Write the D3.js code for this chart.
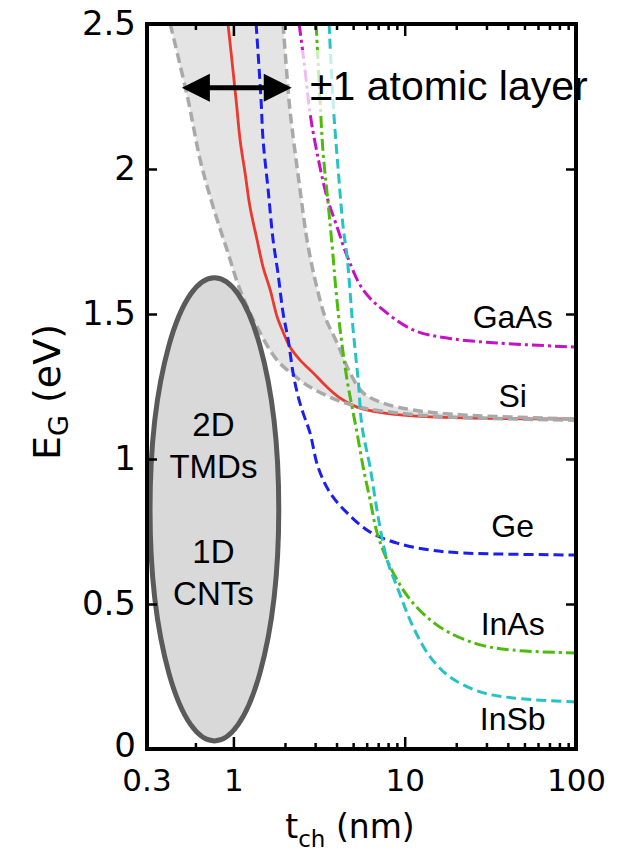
<!DOCTYPE html>
<html><head><meta charset="utf-8">
<script src="https://cdn.jsdelivr.net/npm/d3@7"></script>
<style>body{margin:0;background:#fff}svg{display:block}</style>
</head><body>
<svg id="chart" width="617" height="851"></svg>
<script>
// ---------- data ----------
const xDomain = [0.313, 100];
const yDomain = [0, 2.5];
const xTickValues = [0.3, 1, 10, 100];
const xTickLabels = ["0.3", "1", "10", "100"];
const xMajorTicks = [1, 10];
const xMinorTicks = [0.6, 2, 3, 4, 5, 6, 7, 8, 9, 20, 30, 40, 50, 60, 70, 80, 90];
const yTickValues = [0, 0.5, 1, 1.5, 2, 2.5];
const yTickLabels = ["0", "0.5", "1", "1.5", "2", "2.5"];

const siT   = [0.93, 1.037, 1.094, 1.17, 1.25, 1.375, 1.49, 1.64, 1.80, 1.95, 2.14, 2.45, 2.92, 3.52, 4.20, 5.27, 7.48, 14.1, 100];
const siE   = [2.5, 2.238, 2.1, 1.986, 1.869, 1.755, 1.662, 1.583, 1.490, 1.438, 1.386, 1.341, 1.297, 1.248, 1.21, 1.179, 1.159, 1.145, 1.138];
const geT   = [1.357, 1.45, 1.49, 1.595, 1.705, 1.82, 1.95, 2.09, 2.23, 2.39, 2.55, 2.80, 3.12, 3.67, 4.61, 6.28, 9.03, 14.1, 21.9, 100];
const geE   = [2.5, 2.238, 2.1, 1.928, 1.755, 1.641, 1.503, 1.410, 1.297, 1.214, 1.159, 1.090, 0.972, 0.883, 0.814, 0.748, 0.710, 0.686, 0.676, 0.669];
const gaasT = [2.42, 2.62, 2.80, 3.08, 3.52, 4.03, 4.61, 5.72, 7.48, 11.2, 17.7, 34.6, 100];
const gaasE = [2.5, 2.341, 2.193, 2.055, 1.903, 1.80, 1.70, 1.583, 1.514, 1.445, 1.417, 1.40, 1.386];
const inasT = [3.04, 3.21, 3.34, 3.57, 3.82, 3.92, 4.20, 4.61, 4.93, 5.27, 5.72, 6.28, 6.90, 7.89, 9.03, 10.8, 14.1, 18.4, 27.6, 42.9, 100];
const inasE = [2.5, 2.228, 2.055, 1.883, 1.697, 1.617, 1.445, 1.272, 1.179, 1.090, 0.972, 0.859, 0.745, 0.652, 0.583, 0.514, 0.445, 0.40, 0.359, 0.341, 0.331];
const insbT = [3.62, 3.82, 4.09, 4.37, 4.61, 5.00, 5.35, 5.64, 6.28, 7.00, 7.89, 9.03, 11.2, 14.1, 18.4, 27.6, 42.9, 100];
const insbE = [2.5, 2.228, 1.997, 1.80, 1.697, 1.445, 1.272, 1.110, 0.972, 0.80, 0.652, 0.559, 0.421, 0.317, 0.248, 0.197, 0.176, 0.162];

const bandLowT = [0.428, 0.544, 0.64, 0.762, 0.918, 1.094, 1.375, 1.80, 2.45, 2.80, 4.03, 5.72, 9.03, 17.7, 100];
const bandLowE = [2.5, 2.238, 2.031, 1.869, 1.721, 1.583, 1.455, 1.341, 1.272, 1.248, 1.203, 1.176, 1.159, 1.145, 1.134];
const bandUpT  = [1.95, 2.11, 2.20, 2.45, 2.69, 3.0, 3.43, 4.03, 4.80, 5.72, 7.48, 11.2, 21.9, 100];
const bandUpE  = [2.5, 2.238, 2.14, 1.928, 1.755, 1.617, 1.49, 1.40, 1.297, 1.228, 1.193, 1.169, 1.152, 1.138];

const materialNames = ["GaAs", "Si", "Ge", "InAs", "InSb"];
const labelT = [42.7, 42.7, 42.7, 42.7, 42.7];
const labelE = [1.452, 1.179, 0.731, 0.393, 0.066];

const ellipseT = [0.326, 1.84];   // left / right extent
const ellipseE = [0.028, 1.625];  // bottom / top extent
const ellipseLines = ["2D", "TMDs", "1D", "CNTs"];
const ellipseLineE = [1.078, 0.933, 0.641, 0.497];

const arrowT = [0.50, 2.19];
const arrowE = 2.28;
const arrowText = "\u00b11 atomic layer";

// ---------- drawing ----------
const svg = d3.select("#chart");
const L = 147, R = 576, T = 24, B = 749;
const x = d3.scaleLog().domain(xDomain).range([L, R]);
const y = d3.scaleLinear().domain(yDomain).range([B, T]);

svg.append("defs").append("clipPath").attr("id", "plotclip")
  .append("rect").attr("x", L).attr("y", T).attr("width", R - L).attr("height", B - T);

const plot = svg.append("g").attr("clip-path", "url(#plotclip)");
const zip = (ts, es) => ts.map((t, i) => [t, es[i]]);
const line = d3.line().x(d => x(d[0])).y(d => y(d[1])).curve(d3.curveCatmullRom.alpha(0.5));

// band fill
const low = zip(bandLowT, bandLowE), up = zip(bandUpT, bandUpE);
plot.append("path")
  .attr("d", line(low) + line(up.slice().reverse()).replace(/^M/, "L") + "Z")
  .attr("fill", "#e4e4e4").attr("stroke", "none");

// Si
plot.append("path").attr("d", line(zip(siT, siE)))
  .attr("fill", "none").attr("stroke", "#e83a2e").attr("stroke-width", 2.8);

// band borders
[low, up].forEach(p => plot.append("path").attr("d", line(p))
  .attr("fill", "none").attr("stroke", "#a9a9a9").attr("stroke-width", 3.5)
  .attr("stroke-dasharray", "10,5"));

const curves = [
  {t: geT, e: geE, c: "#1a1ff0", dash: "10,5"},
  {t: gaasT, e: gaasE, c: "#c412c4", dash: "12,4,3,4"},
  {t: inasT, e: inasE, c: "#4cbb0c", dash: "12,4,3,4"},
  {t: insbT, e: insbE, c: "#25c2c6", dash: "10,5"}
];
curves.forEach(s => plot.append("path").attr("d", line(zip(s.t, s.e)))
  .attr("fill", "none").attr("stroke", s.c).attr("stroke-width", 3)
  .attr("stroke-dasharray", s.dash));

// ellipse
const ex0 = x(ellipseT[0]), ex1 = x(ellipseT[1]);
const ey0 = y(ellipseE[0]), ey1 = y(ellipseE[1]);
svg.append("ellipse")
  .attr("cx", (ex0 + ex1) / 2).attr("cy", (ey0 + ey1) / 2)
  .attr("rx", (ex1 - ex0) / 2).attr("ry", (ey0 - ey1) / 2)
  .attr("fill", "#d9d9d9").attr("stroke", "#5a5a5a").attr("stroke-width", 5);
svg.append("g").selectAll("text").data(ellipseLines).join("text")
  .attr("x", (ex0 + ex1) / 2 - 1).attr("y", (d, i) => y(ellipseLineE[i]))
  .attr("text-anchor", "middle")
  .attr("font-family", "Liberation Sans, Arial, sans-serif").attr("font-size", 33)
  .attr("fill", "#000").text(d => d);

// material labels
svg.append("g").selectAll("text").data(materialNames).join("text")
  .attr("x", (d, i) => x(labelT[i])).attr("y", (d, i) => y(labelE[i]))
  .attr("text-anchor", "middle")
  .attr("font-family", "Liberation Sans, Arial, sans-serif").attr("font-size", 32)
  .attr("fill", "#000").text(d => d);

// white box + annotation text
svg.append("rect").attr("x", 298).attr("y", 50).attr("width", 278).attr("height", 62)
  .attr("fill", "#fff").attr("opacity", 0.72);
svg.append("text").attr("x", 310).attr("y", 100)
  .attr("font-family", "Liberation Sans, Arial, sans-serif").attr("font-size", 41)
  .attr("fill", "#000").text(arrowText);

// arrow
const ax0 = x(arrowT[0]), ax1 = x(arrowT[1]), ay = y(arrowE);
const hl = 28, hw = 14;
svg.append("line").attr("x1", ax0 + hl - 2).attr("x2", ax1 - hl + 2)
  .attr("y1", ay).attr("y2", ay).attr("stroke", "#000").attr("stroke-width", 5);
svg.append("path").attr("d", `M${ax0},${ay}L${ax0 + hl},${ay - hw}L${ax0 + hl},${ay + hw}Z`).attr("fill", "#000");
svg.append("path").attr("d", `M${ax1},${ay}L${ax1 - hl},${ay - hw}L${ax1 - hl},${ay + hw}Z`).attr("fill", "#000");

// ---------- axes ----------
const tickFont = "DejaVu Sans, Verdana, sans-serif";
const ax = svg.append("g");
const gy = ax.append("g").attr("transform", `translate(${L},0)`)
  .call(d3.axisLeft(y).tickValues(yTickValues).tickFormat((d, i) => yTickLabels[i])
    .tickSizeInner(-10).tickSizeOuter(0).tickPadding(11));
gy.select(".domain").remove();
gy.selectAll(".tick line").attr("stroke", "#000").attr("stroke-width", 2.5);
gy.selectAll("text").attr("font-family", tickFont).attr("font-size", 34).attr("fill", "#000");
gy.selectAll(".tick").filter(d => d === 0).select("text").attr("dy", "0.22em");
const gyr = ax.append("g").attr("transform", `translate(${R},0)`)
  .call(d3.axisRight(y).tickValues(yTickValues).tickFormat("").tickSizeInner(-10).tickSizeOuter(0));
gyr.select(".domain").remove();
gyr.selectAll(".tick line").attr("stroke", "#000").attr("stroke-width", 2.5);

const gx = ax.append("g").attr("transform", `translate(0,${B})`)
  .call(d3.axisBottom(x).tickValues(xTickValues).tickFormat((d, i) => xTickLabels[i])
    .tickSize(0).tickPadding(20));
gx.select(".domain").remove();
gx.selectAll("text").attr("font-family", tickFont).attr("font-size", 31).attr("fill", "#000");
gx.selectAll(".tick").filter(d => d === 0.3).attr("transform", `translate(${L},0)`);

[[d3.axisBottom, B], [d3.axisTop, T]].forEach(([fn, pos]) => {
  [[xMajorTicks, 12], [xMinorTicks, 6]].forEach(([vals, len]) => {
    const g = ax.append("g").attr("transform", `translate(0,${pos})`)
      .call(fn(x).tickValues(vals).tickFormat("").tickSizeInner(-len).tickSizeOuter(0));
    g.select(".domain").remove();
    g.selectAll(".tick line").attr("stroke", "#000").attr("stroke-width", 2.5);
  });
});

ax.append("rect").attr("x", L).attr("y", T).attr("width", R - L).attr("height", B - T)
  .attr("fill", "none").attr("stroke", "#000").attr("stroke-width", 4);

// axis titles
const yt = svg.append("text").attr("transform", "translate(60,392) rotate(-90)")
  .attr("text-anchor", "middle").attr("font-family", tickFont).attr("font-size", 38).attr("fill", "#000");
yt.append("tspan").text("E");
yt.append("tspan").attr("font-size", 27).attr("dy", 8).text("G");
yt.append("tspan").attr("dy", -8).text(" (eV)");

const xt = svg.append("text").attr("x", 350).attr("y", 838)
  .attr("text-anchor", "middle").attr("font-family", tickFont).attr("font-size", 33).attr("fill", "#000");
xt.append("tspan").text("t");
xt.append("tspan").attr("font-size", 23).attr("dy", 9).text("ch");
xt.append("tspan").attr("dy", -9).text(" (nm)");
</script>
</body></html>
